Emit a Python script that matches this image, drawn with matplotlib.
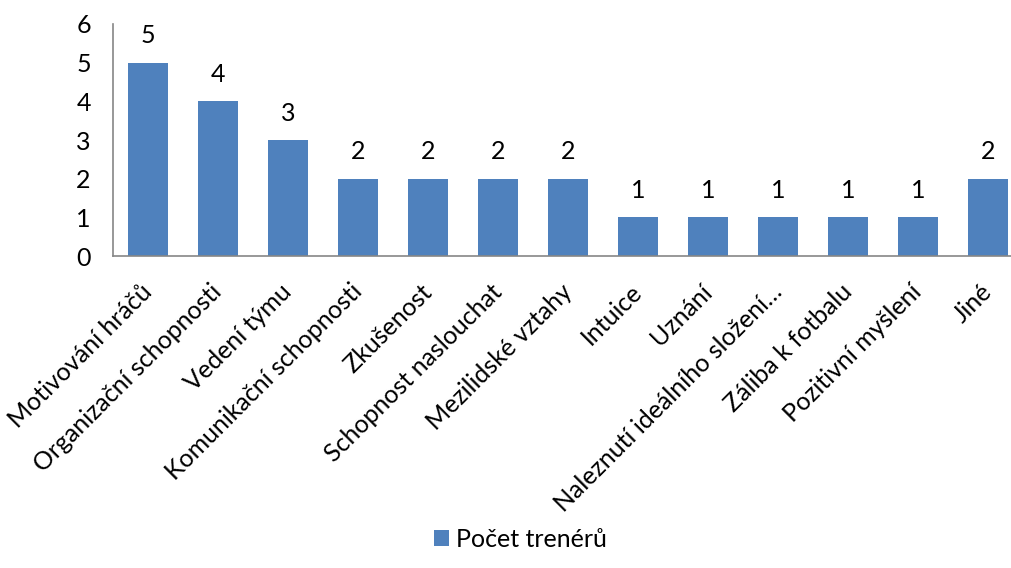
import matplotlib.pyplot as plt
from matplotlib.transforms import ScaledTranslation

categories = [
    "Motivování hráčů",
    "Organizační schopnosti",
    "Vedení týmu",
    "Komunikační schopnosti",
    "Zkušenost",
    "Schopnost naslouchat",
    "Mezilidské vztahy",
    "Intuice",
    "Uznání",
    "Naleznutí ideálního složení…",
    "Záliba k fotbalu",
    "Pozitivní myšlení",
    "Jiné",
]
counts = [5, 4, 3, 2, 2, 2, 2, 1, 1, 1, 1, 1, 2]
series_name = "Počet trenérů"

plt.rcParams["font.family"] = ["Lato", "DejaVu Sans"]
fs = 18

fig = plt.figure(figsize=(10.11, 5.68), dpi=100)
ax = fig.add_axes([0.1118, 0.549, 0.9, 0.409])

x = list(range(len(categories)))
ax.bar(x, counts, width=0.57, color="#4F81BD", label=series_name)

# value labels above bars
for xi, v in zip(x, counts):
    ax.annotate(str(v), (xi, v), xytext=(0, 11), textcoords="offset points",
                ha="center", va="bottom", fontsize=fs)

ax.set_xlim(-0.5, len(categories) - 0.5)
ax.set_ylim(0, 6)
ax.set_yticks(range(7))
ax.tick_params(axis="y", length=0, labelsize=fs, pad=16)
ax.tick_params(axis="x", length=0, labelsize=fs, pad=17)
ax.set_xticks(x)
ax.set_xticklabels(categories, rotation=45, ha="right", rotation_mode="anchor")

# nudge the rotated labels a bit to the left, like the original
shift = ScaledTranslation(-8 / 100, 0, fig.dpi_scale_trans)
for lbl in ax.get_xticklabels():
    lbl.set_transform(lbl.get_transform() + shift)

for side in ["top", "right"]:
    ax.spines[side].set_visible(False)
for side in ["left", "bottom"]:
    ax.spines[side].set_color("#868686")
    ax.spines[side].set_linewidth(1.2)

fig.legend(
    loc="lower center",
    bbox_to_anchor=(0.515, -0.01),
    frameon=False,
    fontsize=fs,
    handlelength=0.6,
    handleheight=0.6,
    handletextpad=0.3,
)

fig.savefig("out.png", dpi=100)
